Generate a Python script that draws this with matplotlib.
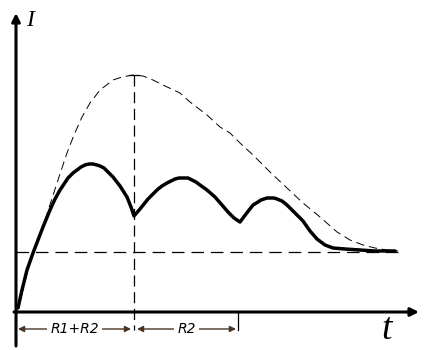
import matplotlib
matplotlib.use('Agg')
import matplotlib.pyplot as plt

plt.rcParams['lines.scale_dashes'] = False

# current curve I(t) (thick line)
t_curve = [2, 6, 11, 17, 22, 27, 34, 39, 44, 52, 57, 61, 65, 69, 73, 77, 81, 84, 88, 91, 97, 104, 111, 115, 118,
           124, 132, 141, 146, 151, 155, 159, 163, 167, 172, 176, 180, 184, 191, 199, 206, 212, 218, 224,
           230, 237, 242, 245, 248, 251, 254, 258, 261, 266, 271, 279, 287, 294, 301, 309, 317, 329, 344, 359, 379]
i_curve = [4, 22, 42, 59, 72, 85, 102, 113, 122, 134, 139, 142, 145, 147, 148, 148, 147, 146, 144, 141, 135, 126, 115, 105, 96,
           103, 113, 122, 126, 129, 131, 133, 134, 134, 134, 132, 130, 127, 122, 115, 107, 100, 94, 90,
           98, 107, 110, 112, 113, 114, 114, 114, 113, 111, 107, 99, 91, 81, 73, 67, 64, 63, 62, 61, 61]

# envelope (thin dashed)
t_env = [2, 14, 29, 41, 51, 58, 66, 74, 84, 97, 106, 117, 127, 137, 147, 164, 174, 191,
         204, 214, 224, 237, 254, 271, 287, 304, 321, 334, 347, 359, 371, 382]
i_env = [4, 50, 92, 129, 159, 177, 195, 209, 222, 232, 235, 237, 236, 232, 227, 219, 210, 197,
         185, 179, 169, 157, 140, 124, 109, 95, 80, 72, 67, 64, 62, 61]

i_steady = 60      # steady-state level
t_switch = 118     # end of R1+R2 interval
t_end_r2 = 222     # end of R2 interval
i_env_max = 237

fig = plt.figure(figsize=(4.32, 3.5), dpi=100)
ax = fig.add_axes([0, 0, 1, 1])
ax.set_xlim(-16, 416)
ax.set_ylim(-38, 312)
ax.axis('off')

# axes with arrows
ax.annotate('', xy=(0, 299), xytext=(0, -34),
            arrowprops=dict(arrowstyle='-|>', lw=2.2, color='black',
                            mutation_scale=12, shrinkA=0, shrinkB=0))
ax.annotate('', xy=(403, 0), xytext=(-2, 0),
            arrowprops=dict(arrowstyle='-|>', lw=2.2, color='black',
                            mutation_scale=12, shrinkA=0, shrinkB=0))
ax.text(10, 292, 'I', fontsize=17, style='italic', family='Liberation Serif', va='center')
ax.text(365, -27, 't', fontsize=27, style='italic', family='Liberation Serif', va='baseline')

# guide lines
ax.plot([0, 382], [i_steady, i_steady], color='black', lw=0.9, dashes=(9, 5))
ax.plot([t_switch, t_switch], [i_env_max, -18], color='black', lw=0.9, dashes=(8, 4))
ax.plot([t_switch - 5, t_switch + 5], [i_env_max, i_env_max], color='black', lw=0.9)
ax.plot([t_end_r2, t_end_r2], [0, -18], color='black', lw=0.9)

# curves
ax.plot(t_env, i_env, color='black', lw=0.7, dashes=(6, 3.5))
ax.plot(t_curve, i_curve, color='black', lw=2.5, solid_capstyle='round', solid_joinstyle='round')

# interval markers
brown = '#4a3424'
for a, b, lab in [(2, 115, 'R1+R2'), (121, 220, 'R2')]:
    ax.annotate('', xy=(a, -17), xytext=(b, -17),
                arrowprops=dict(arrowstyle='<|-|>', lw=1.0, color=brown,
                                mutation_scale=9, shrinkA=0, shrinkB=0))
    ax.text((a + b) / 2, -17, lab, fontsize=10, style='italic', ha='center', va='center',
            color='black', bbox=dict(facecolor='white', edgecolor='none', pad=2))

fig.savefig('out.png', dpi=100)
